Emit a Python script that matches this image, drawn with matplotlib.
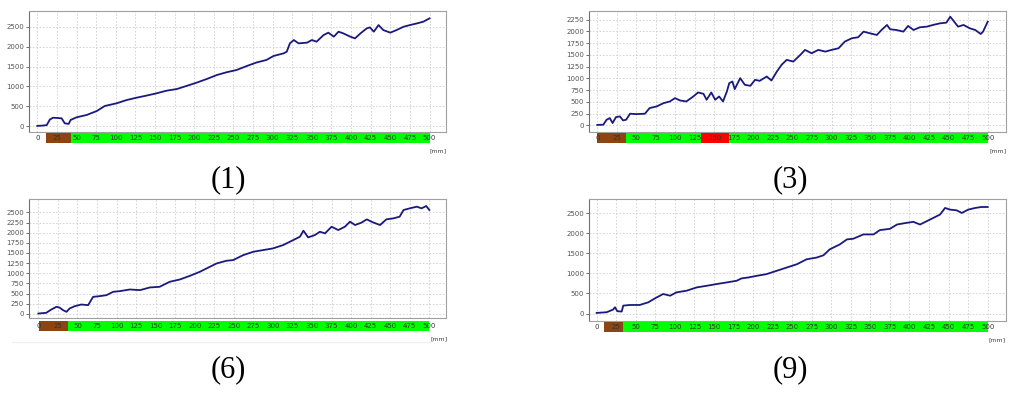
import matplotlib
matplotlib.use("Agg")
import matplotlib.pyplot as plt

# ---------------- data ----------------
ticks_mm = list(range(0, 501, 25))

p1_x = [0, 8, 12, 16, 20, 25, 31, 35, 40, 42.5, 50, 63, 76, 86, 101, 114, 127, 139, 152, 165,
        178, 190, 203, 216, 229, 241, 254, 267, 280, 292, 301, 314, 318, 322, 327, 333, 344, 350,
        356, 365, 371, 378, 384, 390, 399, 405, 412, 420, 424, 429, 435, 441, 450, 458, 467, 475,
        484, 492, 500]
p1_y = [10, 20, 30, 170, 215, 210, 200, 75, 60, 160, 225, 285, 385, 510, 577, 660, 720, 770, 828, 895,
        936, 1012, 1095, 1187, 1288, 1355, 1413, 1513, 1605, 1664, 1764, 1831, 1873, 2082, 2166, 2082, 2100, 2166,
        2124, 2291, 2350, 2250, 2375, 2333, 2250, 2207, 2333, 2458, 2483, 2375, 2541, 2416, 2350, 2416, 2500, 2541,
        2583, 2625, 2709]

p3_x = [0, 7.7, 12, 16, 19.6, 24, 29, 33, 37, 42, 50, 61, 67, 76, 85, 93, 99.5, 106, 114, 123,
        129, 136, 140, 146, 151, 156, 161, 166, 169, 173, 176, 183, 189, 196, 202, 208, 217, 223,
        230, 236, 242.5, 251, 260, 266, 274.5, 283, 292, 300, 309, 317, 326, 334, 341, 349, 358,
        364, 371, 375, 383, 392, 398, 405, 413, 422, 430, 439, 447, 452, 456, 462, 469, 477, 484,
        491, 494, 500]
p3_y = [10, 14, 120, 155, 50, 177, 190, 106, 120, 248, 240, 248, 368, 403, 474, 509, 580, 530, 509, 615,
        700, 672, 545, 700, 545, 615, 509, 722, 898, 934, 771, 1005, 863, 842, 969, 948, 1040, 955,
        1146, 1288, 1394, 1358, 1500, 1606, 1535, 1606, 1570, 1606, 1641, 1783, 1854, 1875, 1995, 1960, 1924,
        2030, 2137, 2045, 2030, 1995, 2116, 2030, 2087, 2101, 2137, 2172, 2186, 2313, 2229, 2101, 2137, 2066, 2030,
        1945, 1995, 2207]

p6_x = [0, 10, 16.6, 23, 27, 31.6, 36, 40, 46.5, 55, 63.6, 70, 78.5, 87, 95.6, 104, 117, 130, 142.5,
        155, 168, 181, 194, 206.5, 215, 228, 240.6, 249, 262, 275, 287.5, 300, 313, 326, 334.5, 339,
        345, 353.7, 360, 366.5, 375, 383.5, 392, 398.5, 405, 413, 420, 428, 437, 445, 454, 462, 467,
        475, 484, 490, 496, 500]
p6_y = [8, 25, 107, 173, 156, 90, 50, 132, 189, 230, 214, 419, 436, 460, 543, 559, 600, 584, 650,
        666, 790, 847, 938, 1036, 1118, 1242, 1308, 1324, 1447, 1530, 1571, 1612, 1694, 1818, 1900, 2048,
        1883, 1941, 2023, 1982, 2146, 2064, 2146, 2270, 2188, 2245, 2327, 2253, 2188, 2327, 2352, 2393, 2558,
        2599, 2640, 2599, 2656, 2558]

p9_x = [0, 12.8, 21, 23.4, 26.4, 32, 34, 42.6, 55, 66, 74.6, 85, 94, 102, 115, 128, 141, 153, 166,
        179, 185, 194, 204.6, 217, 230, 243, 256, 268.5, 281, 290, 298, 311, 320, 328, 341, 354, 362,
        375, 384, 396, 405, 413.5, 422, 430.5, 439, 445.5, 452, 460, 467, 475, 484, 492, 500]
p9_y = [16, 33, 99, 157, 58, 50, 198, 214, 214, 280, 380, 487, 445, 528, 570, 652, 693, 734, 775,
        817, 875, 900, 940, 982, 1064, 1147, 1229, 1353, 1394, 1452, 1600, 1724, 1848, 1864, 1972, 1972, 2079,
        2112, 2219, 2260, 2285, 2219, 2302, 2384, 2467, 2632, 2590, 2574, 2508, 2590, 2632, 2656, 2656]

# colour zones in the bar under each chart: (start mm, end mm, colour)
p1_zones = [(11, 42.6, "brown"), (42.6, 500, "green")]
p3_zones = [(0, 36.4, "brown"), (36.4, 133, "green"), (133, 169, "red"), (169, 500, "green")]
p6_zones = [(0.8, 38.5, "brown"), (38.5, 500, "green")]
p9_zones = [(9.9, 33.4, "brown"), (33.4, 500, "green")]

p1_yticks = list(range(0, 2501, 500))
p3_yticks = list(range(0, 2251, 250))
p6_yticks = list(range(0, 2501, 250))
p9_yticks = list(range(0, 2501, 500))

captions = ["(1)", "(3)", "(6)", "(9)"]

# ---------------- style ----------------
W, H = 1012, 395
zone_colors = {"brown": "#8B4513", "green": "#00FF00", "red": "#FF0000"}
line_color = "#1a1a7e"

fig = plt.figure(figsize=(W / 100, H / 100), dpi=100)


def px_axes(left, top, right, bottom):
    return fig.add_axes([left / W, 1 - bottom / H, (right - left) / W, (bottom - top) / H])


def panel(box, bar, xlim, ylim, xs, ys, yticks, zones, mm_pos, caption, cap_pos):
    ax = px_axes(*box)
    ax.plot(xs, ys, color=line_color, lw=1.3)
    ax.set_xlim(*xlim)
    ax.set_ylim(*ylim)
    ax.set_xticks(ticks_mm)
    ax.set_yticks(yticks)
    ax.tick_params(axis="x", length=0, labelbottom=False)
    ax.tick_params(axis="y", length=2, width=0.6, labelsize=5, colors="#555555", pad=1.5)
    ax.grid(True, color="#cfcfcf", linestyle=(0, (2, 2)), linewidth=0.6)
    for s in ax.spines.values():
        s.set_color("#a0a0a0")
        s.set_linewidth(0.8)
    ax.spines["left"].set_color("#707070")

    bx = px_axes(*bar)
    bx.set_xlim(*xlim)
    bx.set_ylim(0, 1)
    for (a, b, c) in zones:
        bx.axvspan(a, b, ymin=0, ymax=1, color=zone_colors[c], lw=0)
    bx.axis("off")
    for t in ticks_mm:
        bx.text(t, 0.45, str(t), ha="center", va="center", fontsize=5, color="#333333")
    fig.text(mm_pos[0] / W, 1 - mm_pos[1] / H, "[mm]", ha="center", va="center",
             fontsize=4.5, color="#444444")
    fig.text(cap_pos[0] / W, 1 - cap_pos[1] / H, caption, ha="center", va="center",
             fontsize=22, family=["Liberation Serif", "DejaVu Serif"], color="black")


panel((29, 11, 446, 132), (29, 133, 446, 143), (-10.6, 521), (-143, 2894),
      p1_x, p1_y, p1_yticks, p1_zones, (438, 151), captions[0], (228, 180))
panel((589, 11, 1006, 132), (589, 133, 1006, 143), (-10.6, 523.4), (-141, 2434),
      p3_x, p3_y, p3_yticks, p3_zones, (998, 151), captions[1], (790, 180))
panel((29, 199, 446, 317.5), (29, 320.7, 446, 330.7), (-12, 521.3), (-90, 2829),
      p6_x, p6_y, p6_yticks, p6_zones, (439, 339), captions[2], (228, 370))
panel((589, 199, 1006, 320.5), (589, 321.7, 1006, 331.7), (-9.8, 523.4), (-173, 2855),
      p9_x, p9_y, p9_yticks, p9_zones, (997, 340), captions[3], (790, 370))

fig.add_artist(plt.Line2D([12 / W, 430 / W], [1 - 342 / H, 1 - 342 / H], color="#eeeeee", lw=0.8))

fig.savefig("out.png", dpi=100)
